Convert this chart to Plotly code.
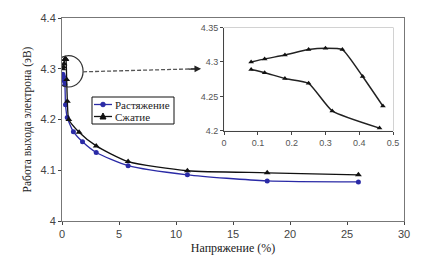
import plotly.graph_objects as go

# Main chart data
stretch_x = [0.075, 0.135, 0.18, 0.25, 0.31, 0.46, 1.0, 1.8, 3.0, 5.8, 11, 18, 26]
stretch_y = [4.289, 4.284, 4.276, 4.269, 4.229, 4.204, 4.176, 4.156, 4.135, 4.109, 4.091, 4.079, 4.077]
comp_x = [0.075, 0.12, 0.18, 0.25, 0.30, 0.35, 0.41, 0.47, 0.6, 1.5, 3.0, 5.8, 11, 18, 26]
comp_y = [4.300, 4.304, 4.310, 4.318, 4.320, 4.318, 4.279, 4.236, 4.20, 4.175, 4.148, 4.117, 4.099, 4.095, 4.091]

# Inset data (zoom of the first points)
inset_stretch_x = [0.08, 0.12, 0.18, 0.25, 0.32, 0.46]
inset_stretch_y = [4.289, 4.2845, 4.276, 4.269, 4.229, 4.204]
inset_comp_x = [0.08, 0.12, 0.18, 0.25, 0.30, 0.35, 0.41, 0.47]
inset_comp_y = [4.300, 4.3045, 4.310, 4.318, 4.320, 4.318, 4.279, 4.236]

labels = ["Растяжение", "Сжатие"]
main_xticks = [0, 5, 10, 15, 20, 25, 30]
main_yticks = [4, 4.1, 4.2, 4.3, 4.4]
inset_xticks = [0, 0.1, 0.2, 0.3, 0.4, 0.5]
inset_yticks = [4.2, 4.25, 4.3, 4.35]

BLUE = "#2a2aa6"
BLACK = "#111111"
serif = "Liberation Serif"
sans = "Liberation Sans"

fig = go.Figure()
fig.add_trace(go.Scatter(x=stretch_x, y=stretch_y, name=labels[0], mode="lines+markers",
                         line=dict(color=BLUE, width=1.3, shape="spline", smoothing=0.6),
                         marker=dict(symbol="circle", size=5, color=BLUE)))
fig.add_trace(go.Scatter(x=comp_x, y=comp_y, name=labels[1], mode="lines+markers",
                         line=dict(color=BLACK, width=1.3, shape="spline", smoothing=0.6),
                         marker=dict(symbol="triangle-up", size=6, color=BLACK)))
fig.add_trace(go.Scatter(x=inset_comp_x, y=inset_comp_y, xaxis="x2", yaxis="y2", mode="lines+markers",
                         line=dict(color="#222222", width=1.5, shape="spline", smoothing=0.5),
                         marker=dict(symbol="triangle-up", size=5, color=BLACK)))
fig.add_trace(go.Scatter(x=inset_stretch_x, y=inset_stretch_y, xaxis="x2", yaxis="y2", mode="lines+markers",
                         line=dict(color="#222222", width=1.5, shape="spline", smoothing=0.5),
                         marker=dict(symbol="triangle-up", size=5, color=BLACK)))

fig.update_layout(
    width=434, height=265,
    margin=dict(l=54, r=38, t=10, b=52, autoexpand=False),
    paper_bgcolor="white", plot_bgcolor="white",
    showlegend=False,
    xaxis=dict(range=[0, 30], tickvals=main_xticks, ticks="outside", ticklen=3, automargin=False,
               showgrid=False, zeroline=False, showline=True, linecolor="#777", linewidth=1,
               mirror=True, tickfont=dict(family=sans, size=11, color="#444"),
               title=dict(text="Напряжение (%)", font=dict(family=serif, size=12, color="#222"), standoff=4)),
    yaxis=dict(range=[4, 4.4], tickvals=main_yticks, ticktext=["4", "4.1", "4.2", "4.3", "4.4"],
               ticks="outside", ticklen=3, automargin=False,
               showgrid=False, zeroline=False, showline=True, linecolor="#777", linewidth=1,
               mirror=True, tickfont=dict(family=sans, size=11, color="#444"),
               title=dict(text="Работа выхода электрона (эВ)", font=dict(family=serif, size=11.5, color="#222"), standoff=6)),
    xaxis2=dict(domain=[0.474, 0.968], anchor="y2", range=[0, 0.5], tickvals=inset_xticks,
                ticktext=["0", "0.1", "0.2", "0.3", "0.4", "0.5"],
                ticks="outside", ticklen=3, showgrid=False, zeroline=False, showline=True,
                linecolor="#444", linewidth=1.2, tickfont=dict(family=sans, size=9, color="#555")),
    yaxis2=dict(domain=[0.444, 0.953], anchor="x2", range=[4.2, 4.35], tickvals=inset_yticks,
                ticktext=["4.2", "4.25", "4.3", "4.35"],
                ticks="outside", ticklen=3, showgrid=False, zeroline=False, showline=True,
                linecolor="#444", linewidth=1.2, tickfont=dict(family=sans, size=9, color="#555")),
)

# light frame on top/right of inset
fig.add_shape(type="rect", xref="x2 domain", yref="y2 domain", x0=0, x1=1, y0=0, y1=1,
              line=dict(color="#aaaaaa", width=1), layer="below")

# circle around the first points
fig.add_shape(type="circle", xref="x", yref="y", x0=-0.7, x1=1.85, y0=4.264, y1=4.326,
              line=dict(color="#333333", width=1.2))

# dashed arrow to the inset
fig.add_shape(type="line", xref="x", yref="y", x0=1.85, y0=4.294, x1=11.9, y1=4.300,
              line=dict(color="#555555", width=1.3, dash="4px,2px"))
fig.add_annotation(x=12.2, y=4.300, ax=11.0, ay=4.2993, xref="x", yref="y", axref="x", ayref="y",
                   text="", showarrow=True, arrowhead=2, arrowsize=1.1, arrowwidth=1.2,
                   arrowcolor="#222222")

# compact legend box (drawn manually to match the small original)
PW, PH = 342.0, 203.0
def px(v):
    return v / PW
def py(v):
    return v / PH

lx0, lx1 = px(30), px(112)
ly_top, ly_bot = 1 - py(79), 1 - py(106)
fig.add_shape(type="rect", xref="paper", yref="paper", x0=lx0, x1=lx1, y0=ly_bot, y1=ly_top,
              line=dict(color=BLACK, width=1), fillcolor="white")
rows = [1 - py(86.5), 1 - py(98.5)]
colors = [BLUE, BLACK]
for i, (yy, col) in enumerate(zip(rows, colors)):
    fig.add_shape(type="line", xref="paper", yref="paper", x0=px(32), x1=px(50), y0=yy, y1=yy,
                  line=dict(color=col, width=1.3))
    if i == 0:
        fig.add_shape(type="circle", xref="paper", yref="paper",
                      x0=px(41 - 2.3), x1=px(41 + 2.3), y0=yy - py(2.3), y1=yy + py(2.3),
                      line=dict(color=col, width=1), fillcolor=col)
    else:
        fig.add_shape(type="path", xref="paper", yref="paper",
                      path=f"M {px(38):.5f} {yy - py(2.5):.5f} L {px(44):.5f} {yy - py(2.5):.5f} "
                           f"L {px(41):.5f} {yy + py(3.5):.5f} Z",
                      line=dict(color=col, width=1), fillcolor=col)
    fig.add_annotation(x=px(51), y=yy, xref="paper", yref="paper", text=labels[i], showarrow=False,
                       xanchor="left", yanchor="middle",
                       font=dict(family=serif, size=11, color="#222"))

fig.write_html("out.html")
